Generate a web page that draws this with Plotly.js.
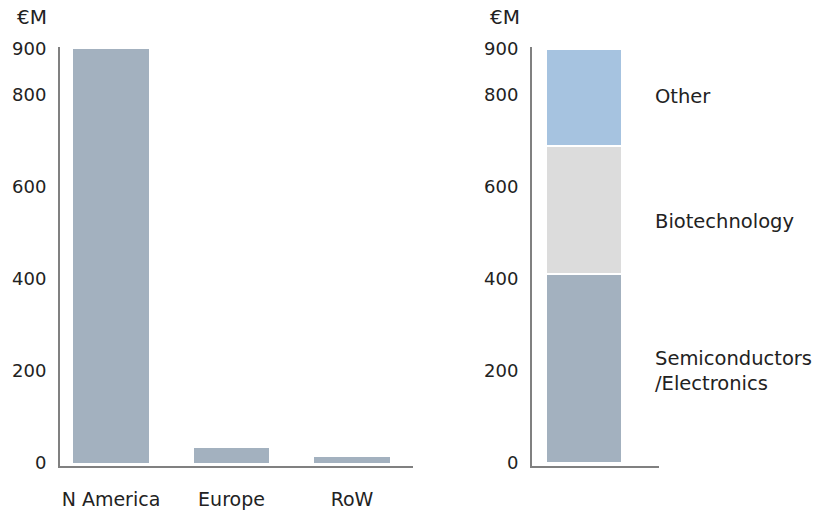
<!DOCTYPE html>
<html>
<head>
<meta charset="utf-8">
<script src="https://cdn.plot.ly/plotly-3.0.1.min.js"></script>
<style>html,body{margin:0;padding:0;background:#fff;}#chart{width:826px;height:513px;}</style>
</head>
<body>
<div id="chart"></div>
<script>
// Data
var regions = ["N America", "Europe", "RoW"];
var regionValues = [900, 33, 13];
var segments = ["Semiconductors<br>/Electronics", "Biotechnology", "Other"];
var segmentValues = [411, 278, 211];
var segmentLabelY = [200, 525, 797];
var tickValues = [0, 200, 400, 600, 800, 900];
var tickLabels = ["0", "200", "400", "600", "800", "900"];
var unitLabel = "€M";

var FONT = "DejaVu Sans, Verdana, sans-serif";
var textColor = "#222222";
var barColor = "#a3b1bf";
var segColors = ["#a3b1bf", "#dcdcdc", "#a6c3e0"];

var traces = [{
  type: "bar",
  x: regions,
  y: regionValues,
  xaxis: "x",
  yaxis: "y",
  width: 0.63,
  marker: {color: barColor, line: {width: 0}},
  hoverinfo: "x+y",
  showlegend: false
}];
for (var i = 0; i < segments.length; i++) {
  traces.push({
    type: "bar",
    x: [0],
    y: [segmentValues[i]],
    name: segments[i],
    xaxis: "x2",
    yaxis: "y2",
    width: 0.63,
    marker: {color: segColors[i], line: {color: "#ffffff", width: 1.5}},
    showlegend: false
  });
}

var yDom = [(513 - 466) / 513, (513 - 47) / 513];
var yRange = [-6.5, 904.3];

function yax(anchor) {
  return {
    domain: yDom,
    range: yRange,
    anchor: anchor,
    tickmode: "array",
    tickvals: tickValues,
    ticktext: tickLabels,
    ticks: "",
    showgrid: false,
    zeroline: false,
    showline: true,
    linecolor: "#808080",
    linewidth: 2,
    ticklabelstandoff: 8,
    tickfont: {family: FONT, size: 18, color: textColor},
    fixedrange: true
  };
}

var annotations = [
  {xref: "paper", yref: "paper", x: 49 / 826, y: (513 - 17) / 513, xanchor: "right", yanchor: "middle",
   text: unitLabel, showarrow: false, font: {family: FONT, size: 20, color: textColor}},
  {xref: "paper", yref: "paper", x: 522 / 826, y: (513 - 17) / 513, xanchor: "right", yanchor: "middle",
   text: unitLabel, showarrow: false, font: {family: FONT, size: 20, color: textColor}}
];
for (var j = 0; j < segments.length; j++) {
  annotations.push({
    xref: "paper", yref: "y2", x: 653 / 826, y: segmentLabelY[j],
    xanchor: "left", yanchor: "middle", align: "left",
    text: segments[j], showarrow: false,
    font: {family: FONT, size: 19.5, color: textColor}
  });
}

var layout = {
  width: 826, height: 513,
  margin: {l: 0, r: 0, t: 0, b: 0, pad: 0},
  paper_bgcolor: "#ffffff",
  plot_bgcolor: "#ffffff",
  barmode: "stack",
  showlegend: false,
  font: {family: FONT, color: textColor},
  xaxis: {
    domain: [60 / 826, 413 / 826],
    anchor: "y",
    type: "category",
    range: [-0.423, 2.506],
    ticks: "",
    showgrid: false,
    zeroline: false,
    showline: true,
    linecolor: "#808080",
    linewidth: 2,
    ticklabelstandoff: 15,
    tickfont: {family: FONT, size: 19, color: textColor},
    fixedrange: true
  },
  yaxis: yax("x"),
  xaxis2: {
    domain: [532 / 826, 659 / 826],
    anchor: "y2",
    range: [-0.4315, 0.622],
    showticklabels: false,
    ticks: "",
    showgrid: false,
    zeroline: false,
    showline: true,
    linecolor: "#808080",
    linewidth: 2,
    fixedrange: true
  },
  yaxis2: yax("x2"),
  annotations: annotations
};

Plotly.newPlot("chart", traces, layout, {displayModeBar: false, staticPlot: true});
</script>
</body>
</html>
